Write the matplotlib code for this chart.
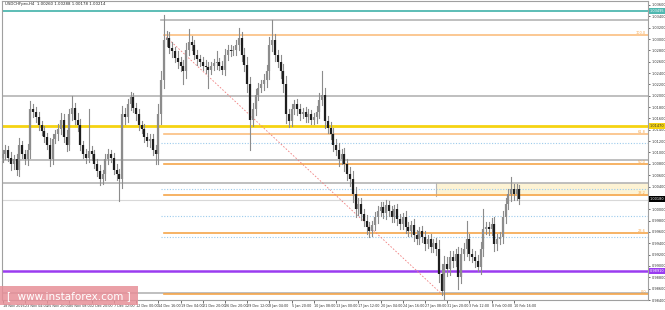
import numpy as np
import matplotlib.pyplot as plt
from matplotlib.patches import Rectangle

# H4 bars, each drawn bar spans two H4 periods
close_pips = [10097, 10105, 10091, 10079, 10088, 10070, 10114, 10097, 10088, 10105,
              10176, 10172, 10162, 10149, 10137, 10127, 10114, 10088, 10123, 10132,
              10141, 10158, 10127, 10114, 10167, 10179, 10158, 10149, 10114, 10097,
              10091, 10102, 10097, 10079, 10067, 10053, 10062, 10088, 10097, 10091,
              10070, 10062, 10053, 10167, 10162, 10185, 10197, 10179, 10167, 10149,
              10141, 10127, 10120, 10123, 10105, 10097, 10167, 10228, 10299, 10302,
              10285, 10278, 10267, 10260, 10253, 10243, 10281, 10295, 10290, 10272,
              10264, 10260, 10253, 10250, 10246, 10253, 10257, 10260, 10253, 10246,
              10272, 10281, 10278, 10281, 10290, 10302, 10272, 10255, 10220, 10158,
              10176, 10202, 10214, 10220, 10228, 10243, 10290, 10299, 10272, 10260,
              10243, 10220, 10167, 10155, 10176, 10185, 10176, 10167, 10172, 10162,
              10167, 10158, 10162, 10172, 10193, 10202, 10155, 10144, 10132, 10114,
              10105, 10088, 10097, 10079, 10062, 10053, 10026, 10000, 10009, 9991,
              9979, 9968, 9961, 9972, 9986, 9996, 10004, 9993, 10007, 9996,
              9986, 10000, 9982, 9974, 9986, 9968, 9961, 9972, 9954, 9947,
              9961, 9951, 9939, 9947, 9933, 9940, 9930, 9886, 9856, 9903,
              9895, 9916, 9909, 9921, 9881, 9921, 9930, 9947, 9921, 9916,
              9909, 9898, 9930, 9965, 9968, 9965, 9974, 9939, 9947, 9951,
              9986, 10009, 10026, 10035, 10026, 10035, 10018]
open_first = 10091

# typical wick length per bar (pips, above and below the body)
wick = [7, 9, 6, 10, 8, 9, 12, 7, 8, 10,
        14, 9, 8, 10, 7, 9, 8, 11, 9, 7,
        10, 8, 9, 12, 10, 9, 8, 11, 10, 7,
        9, 8, 10, 7, 9, 11, 8, 10, 9, 7,
        8, 10, 9, 15, 11, 9, 10, 8, 9, 10,
        7, 9, 8, 10, 9, 8, 18, 16, 14, 12,
        10, 9, 8, 11, 9, 10, 12, 9, 10, 8,
        9, 7, 8, 10, 9, 7, 8, 9, 7, 8,
        10, 9, 8, 7, 9, 10, 11, 12, 14, 13,
        11, 10, 9, 8, 10, 12, 14, 11, 10, 9,
        11, 13, 15, 10, 9, 8, 10, 9, 7, 8,
        9, 8, 7, 10, 11, 9, 12, 10, 9, 11,
        10, 12, 9, 11, 10, 12, 14, 13, 11, 10,
        9, 11, 10, 8, 9, 10, 8, 9, 10, 8,
        9, 8, 10, 9, 8, 10, 9, 8, 10, 9,
        8, 9, 10, 8, 9, 8, 10, 15, 18, 14,
        12, 11, 10, 9, 12, 11, 10, 12, 10, 9,
        10, 11, 12, 13, 9, 10, 11, 12, 10, 9,
        11, 10, 9, 12, 10, 9, 8]

# notable spikes (bar index -> price in pips)
wick_high = {21: 10170, 25: 10199, 31: 10176, 46: 10207, 58: 10343, 67: 10318,
             77: 10278, 85: 10320, 97: 10334, 115: 10243, 167: 9979, 173: 10000,
             183: 10056}
wick_low = {17: 10076, 42: 10014, 55: 10079, 65: 10220, 74: 10214, 89: 10105,
            158: 9849, 164: 9859, 171: 9891}

x_labels = ["18 Nov 2016", "23 Nov 04:00", "25 Nov 20:00", "30 Nov 08:00", "2 Dec 20:00",
            "7 Dec 12:00", "12 Dec 00:00", "14 Dec 16:00", "19 Dec 04:00", "21 Dec 20:00",
            "26 Dec 20:00", "29 Dec 12:00", "3 Jan 04:00", "5 Jan 20:00", "10 Jan 08:00",
            "13 Jan 00:00", "17 Jan 12:00", "20 Jan 04:00", "24 Jan 16:00", "27 Jan 08:00",
            "31 Jan 20:00", "3 Feb 12:00", "8 Feb 00:00", "10 Feb 16:00"]

fib_high = 1.03073
fib_low = 0.98505
fib_ratios = [0.0, 0.236, 0.382, 0.5, 0.618, 1.0]
fib_names = ["0.0", "23.6", "38.2", "50.0", "61.8", "100.0"]

teal_level = 1.03495
purple_level = 0.98910
yellow_level = 1.01470
gray_levels = [1.03340, 1.02000, 1.00860, 1.00470, 0.98520]
thin_gray_level = 1.00160
dotted_levels = [1.01160, 1.00350, 0.99875, 0.99510]
zone = (1.00240, 1.00470)
last_price = 1.00180

closes = np.array(close_pips) / 10000.0
opens = np.concatenate([[open_first / 10000.0], closes[:-1]])
wicks = np.array(wick) / 10000.0
xs = np.arange(len(closes)) * 2.0

fig = plt.figure(figsize=(6.65, 3.1), dpi=100)
ax = fig.add_axes([2 / 665, 10 / 310, 646 / 665, 299 / 310])
ax.set_xlim(-0.5, 464.5)
ax.set_ylim(0.98417, 1.03670)

# horizontal levels
ax.axhline(teal_level, color="#4fb8b0", lw=1.3)
ax.axhline(yellow_level, color="#f5d312", lw=2.0)
ax.axhline(purple_level, color="#9a3cf0", lw=1.8)
for g in gray_levels:
    ax.axhline(g, color="#b4b4b4", lw=1.2, xmin=0.246 if g > 1.03 else 0)
ax.axhline(thin_gray_level, color="#d8d8d8", lw=0.8)
for d in dotted_levels:
    ax.axhline(d, color="#9ccbec", lw=0.8, ls=(0, (1, 1.5)), xmin=0.246)
ax.add_patch(Rectangle((312, zone[0]), 160, zone[1] - zone[0], facecolor="#fdf3d4",
                       edgecolor="none", zorder=0))
ax.plot([312, 312], [zone[0], zone[1]], color="#b4b4b4", lw=0.8)

# fibonacci levels
fib_start = 116
for r, n in zip(fib_ratios, fib_names):
    lvl = fib_low + (fib_high - fib_low) * r
    c = "#fbbf80" if n in ("61.8", "100.0") else "#f5a54a"
    ax.plot([fib_start, 464.5], [lvl, lvl], color=c, lw=1.2)
    ax.text(463, lvl + 0.00005, n, color="#f5a54a", fontsize=2.5, ha="right", va="bottom")
ax.plot([fib_start, 316], [fib_high, fib_low], color="#f08080", lw=0.6, ls=(0, (2, 2)))

# candles
for i, (x, o, c, w) in enumerate(zip(xs, opens, closes, wicks)):
    hi = max(o, c) + w
    lo = min(o, c) - w
    if i in wick_high:
        hi = wick_high[i] / 10000.0
    if i in wick_low:
        lo = wick_low[i] / 10000.0
    col = "#1e1e1e" if c < o else "#8c8c8c"
    ax.plot([x, x], [lo, hi], color="#8c8c8c", lw=0.8, zorder=3)
    ax.plot([x, x], [min(o, c), max(o, c)], color=col, lw=1.6, zorder=4,
            solid_capstyle="butt")

# axes styling
for s in ax.spines.values():
    s.set_color("#a0a0a0")
    s.set_linewidth(0.8)
ax.yaxis.tick_right()
yt = np.arange(0.9840, 1.0361, 0.002)
tags = [teal_level, yellow_level, last_price, purple_level]
# the price tags cover the scale labels right under them
ylabels = ["" if min(abs(v - t) for t in tags) < 0.0005 else "%.5f" % v for v in yt]
ax.set_yticks(yt)
ax.set_yticklabels(ylabels, fontsize=2.5, color="#333333")
ax.tick_params(axis="y", length=1.5, width=0.5, pad=1.0, colors="#333333")
ax.set_xticks(np.arange(len(x_labels)) * 16)
ax.set_xticklabels(x_labels, fontsize=2.4, ha="left", color="#333333")
ax.tick_params(axis="x", length=2, width=0.5, pad=1.0, colors="#333333")

# right side value boxes
def tag(y, txt, fc, tc="white"):
    ax.text(1.002, y, txt, transform=ax.get_yaxis_transform(), fontsize=2.5, color=tc,
            va="center", ha="left",
            bbox=dict(boxstyle="square,pad=0.2", facecolor=fc, edgecolor="none"))

tag(teal_level, "%.5f" % teal_level, "#4fb8b0")
tag(yellow_level, "%.5f" % yellow_level, "#f5d312", "#333333")
tag(last_price, "%.5f" % last_price, "#000000")
tag(purple_level, "%.5f" % purple_level, "#9a3cf0")

fig.text(5 / 665, 1 - 4 / 310, "USDCHFpro,H4  1.00260 1.00288 1.00178 1.00214",
         fontsize=2.8, va="center", ha="left", color="#222222")

# watermark
fig.patches.append(Rectangle((0, 5 / 310), 138 / 665, 19 / 310, transform=fig.transFigure,
                             facecolor="#e78f98", edgecolor="none", alpha=0.85, zorder=10))
fig.text(69 / 665, 14 / 310, "[  www.instaforex.com ]", color="white", fontsize=7.5,
         ha="center", va="center", zorder=11)

fig.savefig("out.png", dpi=100)
